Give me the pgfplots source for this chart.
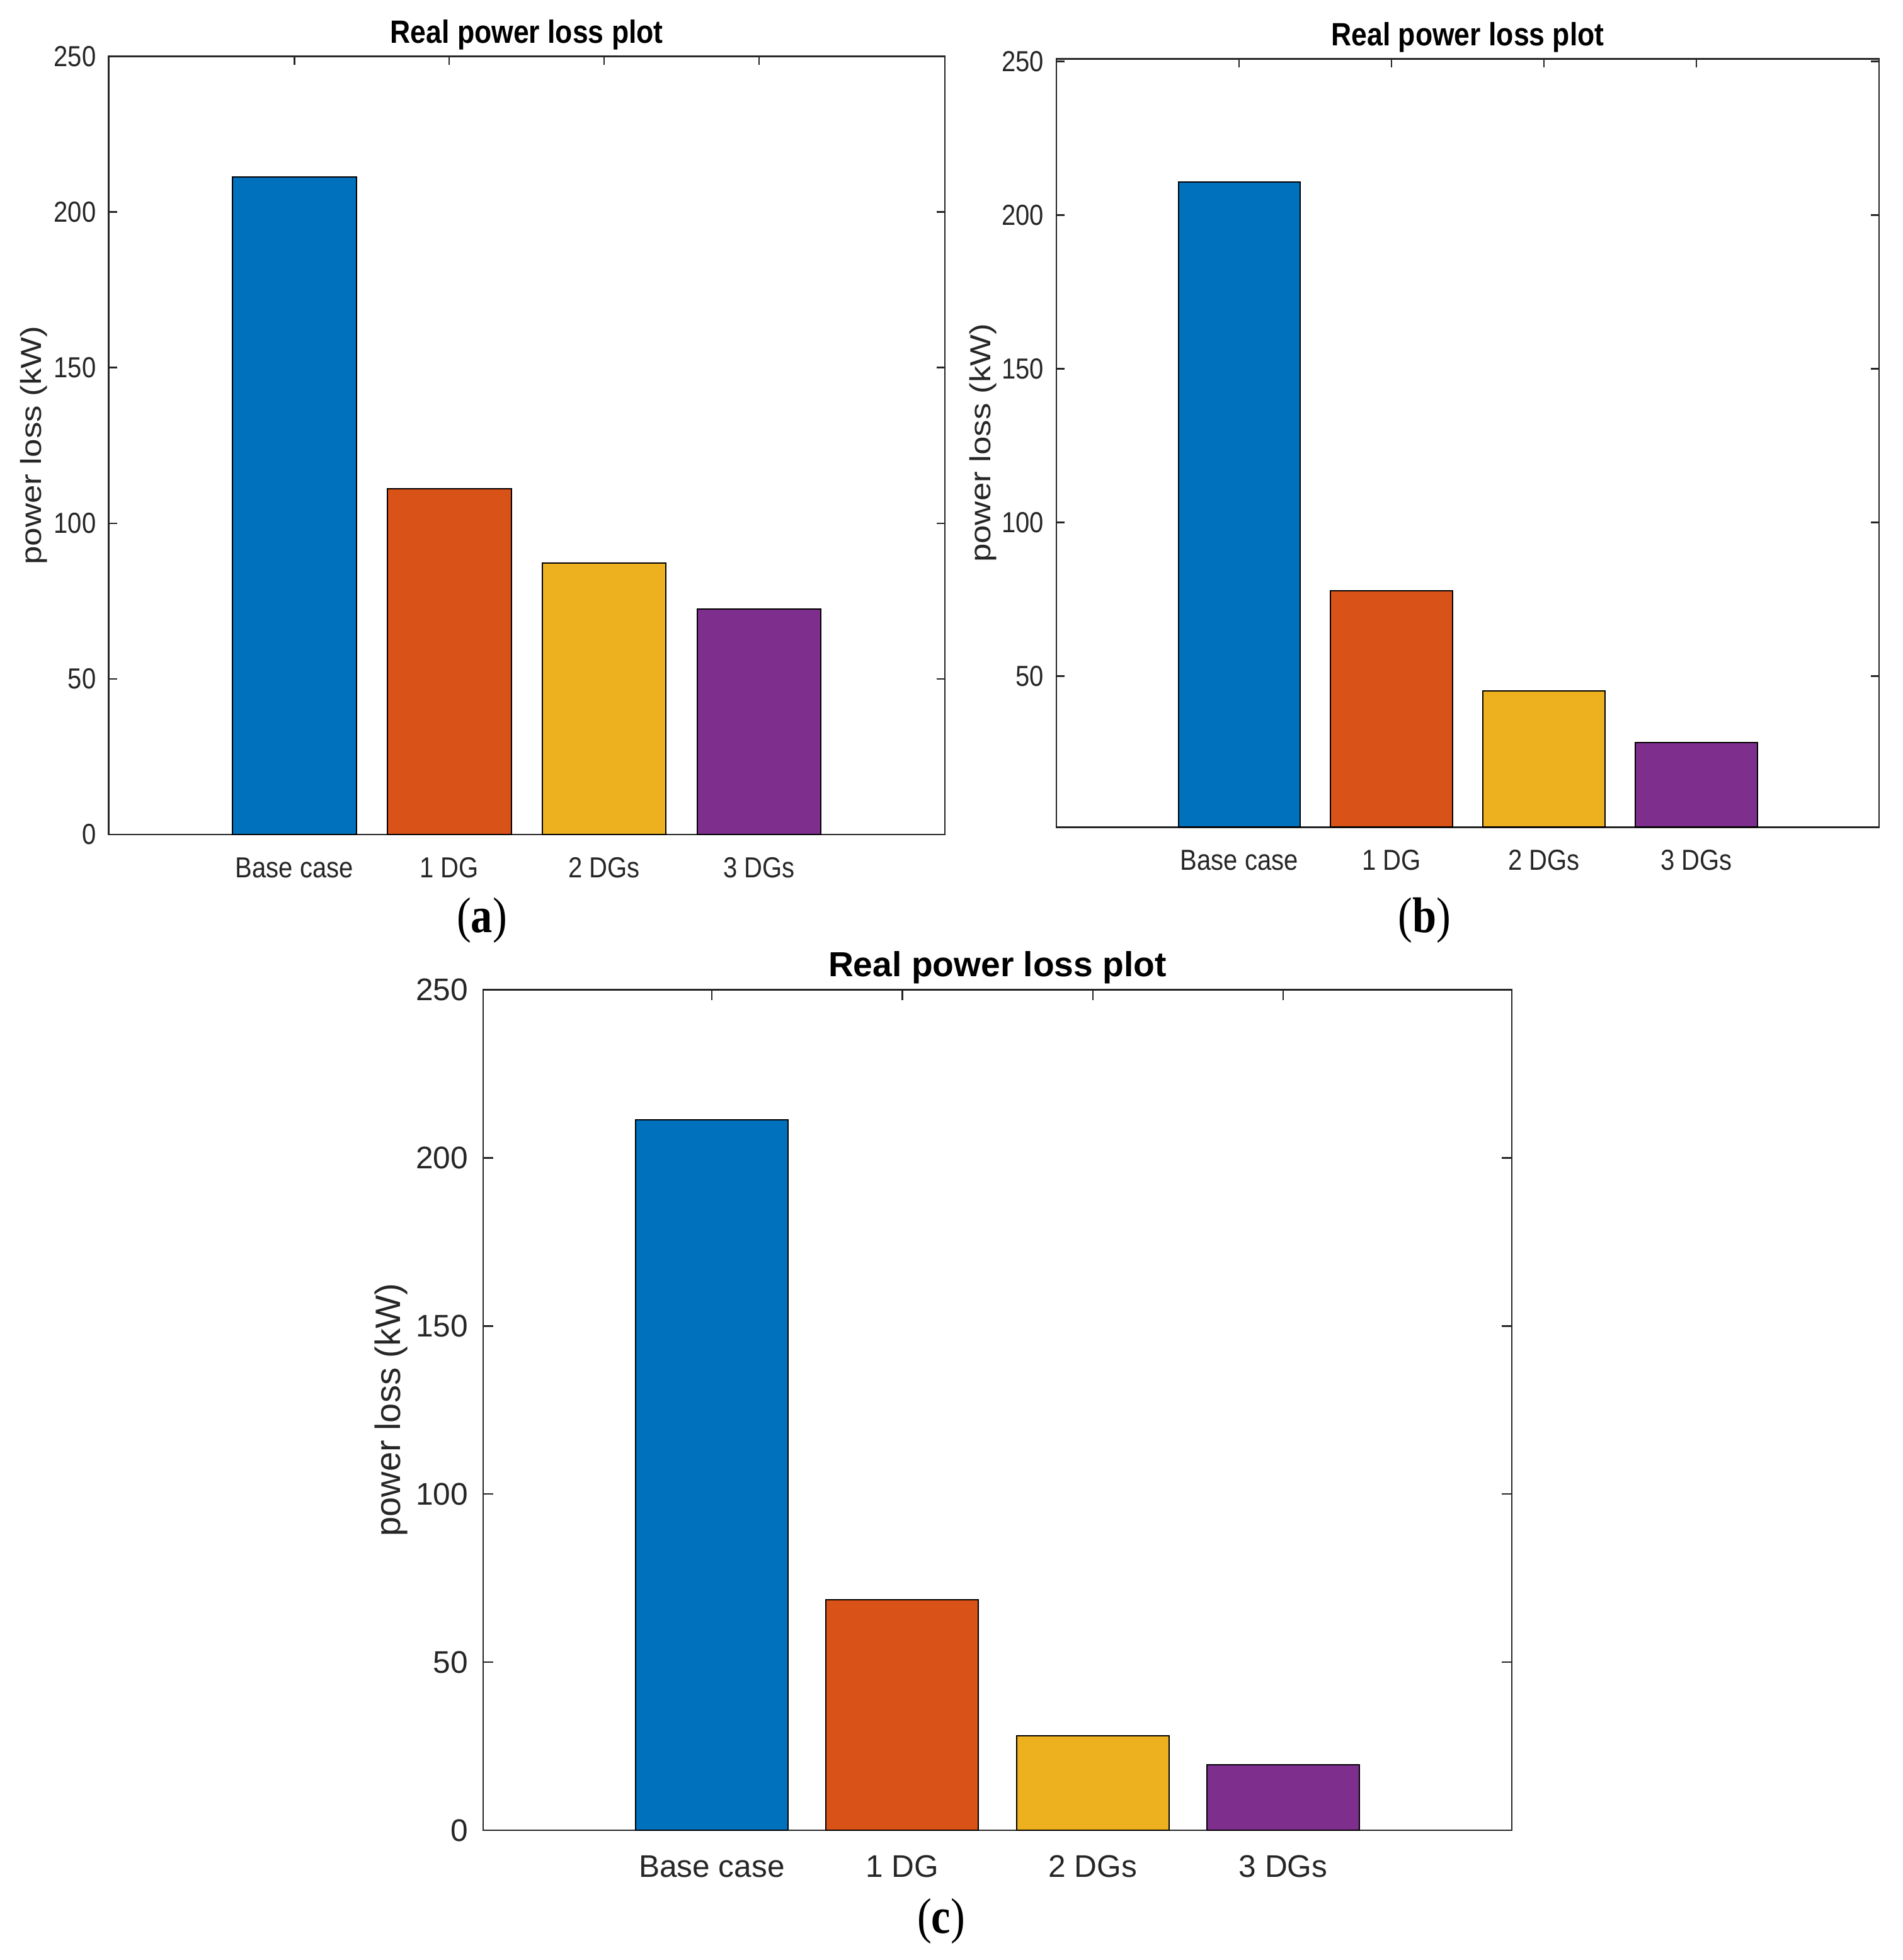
\documentclass[border=0pt]{standalone}
\usepackage{fontspec}
\setmainfont{Liberation Sans}
\newfontfamily\cond{Liberation Sans}[FakeStretch=0.87]
\newfontfamily\wide{Liberation Sans}[FakeStretch=1.15]
\newfontfamily\serifc{Liberation Serif}[FakeStretch=0.86]
\usepackage{pgfplots}
\pgfplotsset{compat=1.18}
\definecolor{mblue}{RGB}{0,114,189}
\definecolor{mred}{RGB}{217,83,25}
\definecolor{myel}{RGB}{237,177,32}
\definecolor{mpur}{RGB}{126,47,142}
\definecolor{axgray}{RGB}{38,38,38}
\pgfplotsset{
  mstyle/.style={
    scale only axis,
    anchor=south west,
    xmin=-0.2, xmax=5.2,
    xtick={1,2,3,4},
    xticklabels={Base case,1 DG,2 DGs,3 DGs},
    ytick={0,50,100,150,200,250},
    tick align=inside,
    xtick pos=both, ytick pos=both,
    axis line style={axgray, line width=0.6pt},
    every tick/.style={axgray, line width=0.6pt},
    minor tick num=0,
    /pgf/number format/assume math mode=true,
    tick label style={text=axgray},
    xticklabel style={anchor=base, inner sep=0pt},
    yticklabel style={anchor=east, inner sep=0pt},
    every axis title/.style={at={(axis description cs:0.5,1)}, anchor=base, yshift=5.2pt},
  },
  small/.style={
    major tick length=3.3pt,
    tick label style={font=\cond\fontsize{11.5}{13}\selectfont},
    xticklabel style={yshift=-17pt},
    yticklabel style={xshift=-4.8pt},
    title style={font=\cond\bfseries\fontsize{12.8}{14}\selectfont},
  },
  mbar/.style={ybar, bar width=0.8, bar shift=0pt, draw=black, line width=0.5pt},
}
\begin{document}
\begin{tikzpicture}
\path (0,0) rectangle (755pt,-778pt);
% (a)
\begin{axis}[mstyle, small,
  at={(43.1pt,-331.25pt)}, width=331.9pt, height=308.9pt,
  ymin=0, ymax=250,
  title={Real power loss plot},
  ylabel={power loss (kW)},
  every axis y label/.style={at={(axis description cs:0,0.5)}, xshift=-29.7pt, rotate=90, anchor=center, font=\wide\fontsize{11.5}{13}\selectfont, text=axgray},
]
\addplot[mbar, fill=mblue] coordinates {(1,211.2)};
\addplot[mbar, fill=mred] coordinates {(2,111.0)};
\addplot[mbar, fill=myel] coordinates {(3,87.2)};
\addplot[mbar, fill=mpur] coordinates {(4,72.5)};
\end{axis}
% (b)
\begin{axis}[mstyle, small,
  at={(419.25pt,-328.35pt)}, width=326.5pt, height=305pt,
  ymin=0.8, ymax=250.8,
  title={Real power loss plot},
  ylabel={power loss (kW)},
  every axis y label/.style={at={(axis description cs:0,0.5)}, xshift=-29pt, rotate=90, anchor=center, font=\wide\fontsize{11.5}{13}\selectfont, text=axgray},
]
\addplot[mbar, fill=mblue] coordinates {(1,210.8)};
\addplot[mbar, fill=mred] coordinates {(2,77.8)};
\addplot[mbar, fill=myel] coordinates {(3,45.1)};
\addplot[mbar, fill=mpur] coordinates {(4,28.4)};
\end{axis}
% (c)
\begin{axis}[mstyle,
  at={(191.75pt,-726.5pt)}, width=408.25pt, height=333.6pt,
  ymin=0, ymax=250,
  major tick length=4pt,
  tick label style={font=\fontsize{12.4}{14}\selectfont},
  xticklabel style={yshift=-18.5pt},
  yticklabel style={xshift=-5.8pt},
  title style={font=\bfseries\fontsize{13.8}{15}\selectfont},
  title={Real power loss plot},
  ylabel={power loss (kW)},
  every axis y label/.style={at={(axis description cs:0,0.5)}, xshift=-36.5pt, rotate=90, anchor=center, font=\fontsize{14}{16}\selectfont, text=axgray},
]
\addplot[mbar, fill=mblue] coordinates {(1,211.3)};
\addplot[mbar, fill=mred] coordinates {(2,68.6)};
\addplot[mbar, fill=myel] coordinates {(3,28.1)};
\addplot[mbar, fill=mpur] coordinates {(4,19.5)};
\end{axis}
\node[font=\serifc\fontsize{19.9}{22}\selectfont, inner sep=0pt] at (191.25pt,-365.25pt) {(\textbf{a})};
\node[font=\serifc\fontsize{19.9}{22}\selectfont, inner sep=0pt] at (565.4pt,-365.25pt) {(\textbf{b})};
\node[font=\serifc\fontsize{19.9}{22}\selectfont, inner sep=0pt] at (373.5pt,-762.5pt) {(\textbf{c})};
\end{tikzpicture}
\end{document}
